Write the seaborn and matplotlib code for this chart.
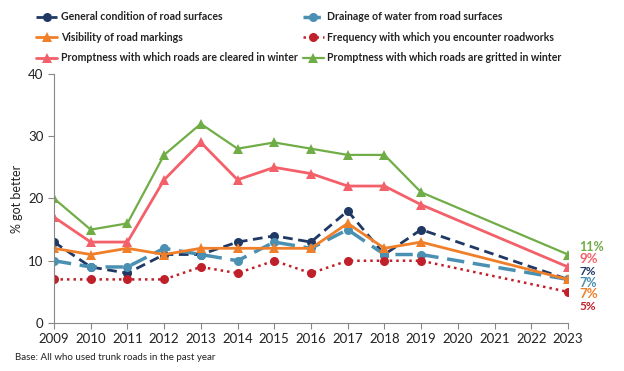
import pandas as pd
import seaborn as sns
import matplotlib.pyplot as plt

years = [2009, 2010, 2011, 2012, 2013, 2014, 2015, 2016, 2017, 2018, 2019, 2023]
general = [13, 9, 8, 11, 11, 13, 14, 13, 18, 11, 15, 7]
drainage = [10, 9, 9, 12, 11, 10, 13, 12, 15, 11, 11, 7]
visibility = [12, 11, 12, 11, 12, 12, 12, 12, 16, 12, 13, 7]
roadworks = [7, 7, 7, 7, 9, 8, 10, 8, 10, 10, 10, 5]
cleared = [17, 13, 13, 23, 29, 23, 25, 24, 22, 22, 19, 9]
gritted = [20, 15, 16, 27, 32, 28, 29, 28, 27, 27, 21, 11]

names = ["General condition of road surfaces",
         "Drainage of water from road surfaces",
         "Visibility of road markings",
         "Frequency with which you encounter roadworks",
         "Promptness with which roads are cleared in winter",
         "Promptness with which roads are gritted in winter"]
tick_years = list(range(2009, 2024))

# style per series: colour, marker, linestyle, linewidth, label y-position, label size
styles = {
    names[0]: ("#1F3864", "o", (0, (3.5, 2)), 2.0, 8.3, 8.5),
    names[1]: ("#4A90B2", "o", (0, (5, 2.5)), 2.5, 6.4, 9),
    names[2]: ("#F07F2A", "^", "-", 2.0, 4.6, 9.5),
    names[3]: ("#C0202A", "o", (0, (1, 1.6)), 1.8, 2.6, 8.5),
    names[4]: ("#F4606A", "^", "-", 2.0, 10.3, 9.5),
    names[5]: ("#70AD47", "^", "-", 1.6, 12.2, 9),
}
values = [general, drainage, visibility, roadworks, cleared, gritted]
# legend order is row-wise in the reference (2 columns)
legend_order = [0, 2, 4, 1, 3, 5]

sns.set_style("white")
plt.rcParams["font.family"] = ["Lato", "DejaVu Sans"]

fig = plt.figure(figsize=(6.24, 3.71), dpi=100)
ax = fig.add_axes([0.0865, 0.1294, 0.8237, 0.6712])

for name, vals in zip(names, values):
    color, marker, ls, lw, ly, fs = styles[name]
    df = pd.DataFrame({"year": years, "value": vals})
    sns.lineplot(data=df, x="year", y="value", ax=ax, color=color, marker=marker,
                 linestyle=ls, linewidth=lw, markersize=6.5, markeredgewidth=0,
                 label=name, legend=False)
    ax.annotate(f"{vals[-1]}%", xy=(2023, ly), xytext=(8, 0), textcoords="offset points",
                color=color, fontsize=fs, fontweight="bold", va="center", ha="left",
                annotation_clip=False)

ax.set_xlim(2009, 2023)
ax.set_ylim(0, 40)
ax.set_xticks(tick_years)
ax.set_yticks([0, 10, 20, 30, 40])
ax.tick_params(axis="both", labelsize=9.5, colors="#222222", length=4, width=0.8,
               direction="out", bottom=True, left=True)
ax.tick_params(axis="x", color="#888888")
ax.tick_params(axis="y", color="#888888")
ax.set_xlabel("")
ax.set_ylabel("% got better", fontsize=9, color="#222222")
sns.despine(ax=ax)
for s in ["left", "bottom"]:
    ax.spines[s].set_color("#888888")
    ax.spines[s].set_linewidth(0.8)

handles, labels = ax.get_legend_handles_labels()
fig.legend([handles[i] for i in legend_order], [labels[i] for i in legend_order],
           loc="upper left", bbox_to_anchor=(0.043, 0.995), ncol=2, frameon=False,
           prop={"size": 7.6, "weight": "bold"}, handlelength=2.0, handletextpad=0.3,
           columnspacing=0.5, labelspacing=0.9, labelcolor="#222222")

fig.text(0.024, 0.03, "Base: All who used trunk roads in the past year", fontsize=7,
         color="#222222")

fig.savefig("out.png", dpi=100)
